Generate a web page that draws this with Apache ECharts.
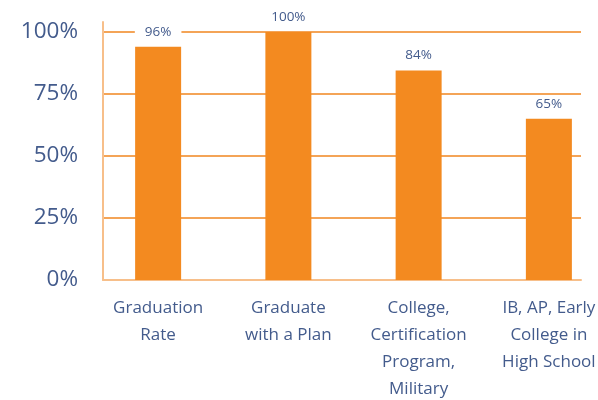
<!DOCTYPE html>
<html>
<head>
<meta charset="utf-8">
<script src="https://cdn.jsdelivr.net/npm/echarts@6/dist/echarts.min.js"></script>
<style>
html,body{margin:0;padding:0;background:#fff;}
#chart{width:598px;height:400px;}
</style>
</head>
<body>
<div id="chart"></div>
<script>
const categories = ["Graduation\nRate", "Graduate\nwith a Plan", "College,\nCertification\nProgram,\nMilitary", "IB, AP, Early\nCollege in\nHigh School"];
const barValues = [94, 100, 84.5, 65];
const barLabels = ["96%", "100%", "84%", "65%"];
const yTicks = [0, 25, 50, 75, 100];

const textColor = '#435b8c';
const font = '"Open Sans", "Noto Sans", sans-serif';

const chart = echarts.init(document.getElementById('chart'), null, {renderer: 'canvas'});
chart.setOption({
  animation: false,
  backgroundColor: '#ffffff',
  grid: [
    {left: 103, right: 17, top: 22, bottom: 120, outerBoundsMode: 'none', containLabel: false},
    {left: 93, width: 521, top: 22, bottom: 120, outerBoundsMode: 'none', containLabel: false}
  ],
  xAxis: [
    {
      gridIndex: 0, type: 'category', data: categories,
      axisLine: {show: true, lineStyle: {color: '#f7bf8a', width: 2}},
      axisTick: {show: false}, axisLabel: {show: false}, splitLine: {show: false}
    },
    {
      gridIndex: 1, type: 'category', data: categories,
      axisLine: {show: false}, axisTick: {show: false},
      axisLabel: {color: textColor, fontFamily: font, fontSize: 17, lineHeight: 27, margin: 15, interval: 0}
    }
  ],
  yAxis: [
    {
      gridIndex: 0, type: 'value', min: 0, max: 104, interval: 25,
      axisLine: {show: true, lineStyle: {color: '#f7bf8a', width: 2}},
      axisTick: {show: false},
      axisLabel: {
        color: textColor, fontFamily: font, fontSize: 22.5, margin: 25,
        formatter: function (v) { return yTicks.indexOf(v) >= 0 ? v + '%' : ''; }
      },
      splitLine: {show: true, showMaxLine: false, showMinLine: false, lineStyle: {color: '#f4a457', width: 2}}
    },
    {
      gridIndex: 1, type: 'value', min: 0, max: 104, interval: 25, show: false,
      splitLine: {show: false}
    }
  ],
  series: [{
    type: 'bar', xAxisIndex: 1, yAxisIndex: 1,
    data: barValues, barWidth: 46,
    itemStyle: {color: '#f38a20'},
    label: {
      show: true, position: 'top', distance: 8,
      color: textColor, fontFamily: font, fontSize: 13.5,
      backgroundColor: '#ffffff', padding: [0, 10],
      formatter: function (p) { return barLabels[p.dataIndex]; }
    }
  }]
});
</script>
</body>
</html>
